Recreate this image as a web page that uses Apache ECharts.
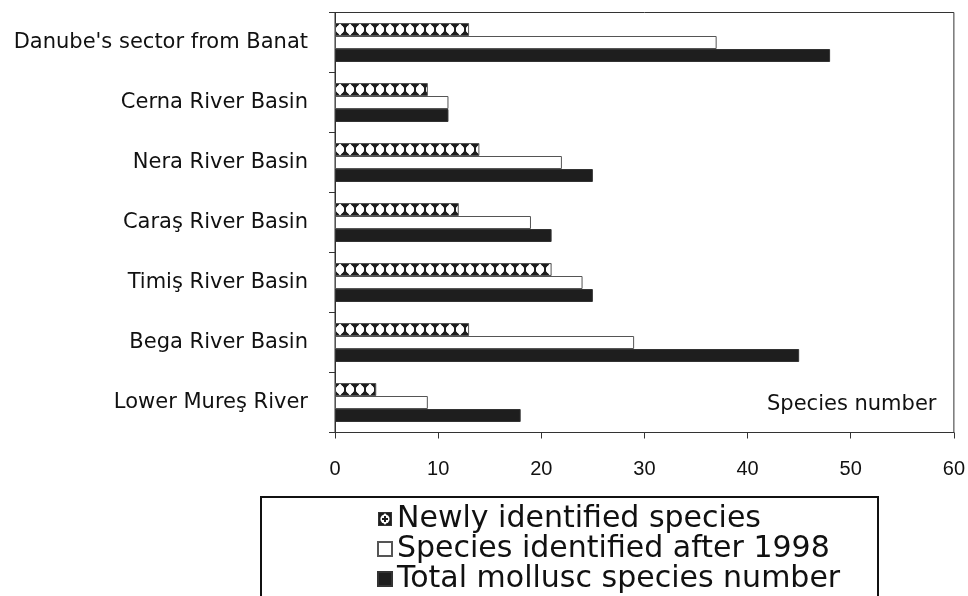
<!DOCTYPE html>
<html>
<head>
<meta charset="utf-8">
<script src="https://cdn.jsdelivr.net/npm/echarts@6/dist/echarts.min.js"></script>
<style>
html,body{margin:0;padding:0;background:#fff;}
#chart{width:968px;height:596px;}
</style>
</head>
<body>
<div id="chart"></div>
<script>
var categories = ["Danube's sector from Banat", "Cerna River Basin", "Nera River Basin", "Caraş River Basin", "Timiş River Basin", "Bega River Basin", "Lower Mureş River"];
var seriesNames = ["Newly identified species", "Species identified after 1998", "Total mollusc species number"];
var newlyIdentified = [13, 9, 14, 12, 21, 13, 4];
var identifiedAfter1998 = [37, 11, 22, 19, 24, 29, 9];
var totalSpecies = [48, 11, 25, 21, 25, 45, 18];
var xTicks = [0, 10, 20, 30, 40, 50, 60];

function drawMotif(ctx, cx, cy) {
  ctx.fillStyle = '#ffffff';
  ctx.beginPath();
  ctx.moveTo(cx, cy - 6);
  ctx.lineTo(cx + 4, cy - 1.5);
  ctx.lineTo(cx + 4, cy + 1.5);
  ctx.lineTo(cx, cy + 6);
  ctx.lineTo(cx - 4, cy + 1.5);
  ctx.lineTo(cx - 4, cy - 1.5);
  ctx.closePath();
  ctx.fill();
  ctx.beginPath();
  ctx.arc(cx, cy, 3.9, 0, Math.PI * 2);
  ctx.fill();
  ctx.fillRect(cx - 0.5, cy - 6.5, 1, 13);
}
function makePattern() {
  var c = document.createElement('canvas');
  c.width = 10; c.height = 60;
  var ctx = c.getContext('2d');
  ctx.fillStyle = '#1e1e1e';
  ctx.fillRect(0, 0, 10, 60);
  drawMotif(ctx, 0, 29.5);
  drawMotif(ctx, 10, 29.5);
  return c;
}
function makeLegendIcon() {
  var c = document.createElement('canvas');
  c.width = 14; c.height = 14;
  var ctx = c.getContext('2d');
  ctx.fillStyle = '#1e1e1e';
  ctx.fillRect(0, 0, 14, 14);
  ctx.fillStyle = '#fff';
  ctx.beginPath();
  ctx.arc(7, 7, 4.6, 0, Math.PI * 2);
  ctx.fill();
  ctx.beginPath();
  ctx.moveTo(7, 1); ctx.lineTo(11, 7); ctx.lineTo(7, 13); ctx.lineTo(3, 7); ctx.closePath();
  ctx.fill();
  ctx.fillStyle = '#1e1e1e';
  ctx.fillRect(6, 4, 2, 6);
  ctx.fillRect(4, 6, 6, 2);
  ctx.strokeStyle = '#333';
  ctx.lineWidth = 1;
  ctx.strokeRect(0.5, 0.5, 13, 13);
  return c.toDataURL();
}
var pattern = { image: makePattern(), repeat: 'repeat' };

var labelFont = '"DejaVu Sans", sans-serif';
var tickFont = '"Liberation Sans", Arial, sans-serif';
var chart = echarts.init(document.getElementById('chart'));
chart.setOption({
  animation: false,
  backgroundColor: '#fff',
  grid: { left: 335, right: 11, top: 12.5, height: 420, show: true, borderColor: '#333', borderWidth: 1 },
  xAxis: {
    type: 'value', min: xTicks[0], max: xTicks[xTicks.length - 1], interval: 10,
    splitLine: { show: false },
    axisLine: { show: true, lineStyle: { color: '#333', width: 1 } },
    axisTick: { show: true, length: 6, lineStyle: { color: '#333' } },
    axisLabel: { fontFamily: tickFont, fontSize: 20, color: '#111', margin: 27 }
  },
  yAxis: {
    type: 'category', data: categories, inverse: true,
    axisLine: { show: true, lineStyle: { color: '#333', width: 1 } },
    axisTick: { show: true, length: 6, lineStyle: { color: '#333' } },
    axisLabel: { fontFamily: labelFont, fontSize: 21, color: '#111', margin: 27 }
  },
  legend: {
    orient: 'vertical', left: 377, top: 504, padding: 0, itemGap: 0,
    itemWidth: 14, itemHeight: 14,
    textStyle: { fontFamily: labelFont, fontSize: 30, lineHeight: 29.5, color: '#111' },
    data: [
      { name: seriesNames[0], icon: 'image://' + makeLegendIcon() },
      { name: seriesNames[1], icon: 'rect' },
      { name: seriesNames[2], icon: 'rect' }
    ]
  },
  graphic: [
    { type: 'rect', shape: { x: 261, y: 497, width: 617, height: 130 }, style: { fill: 'none', stroke: '#111', lineWidth: 2 }, silent: true },
    { type: 'text', left: 767, top: 394, style: { text: 'Species number', fontFamily: labelFont, fontSize: 21, fill: '#111' } }
  ],
  series: [
    { name: seriesNames[0], type: 'bar', data: newlyIdentified, barWidth: 13, barGap: '0%',
      itemStyle: { color: pattern, borderColor: '#555', borderWidth: 1 } },
    { name: seriesNames[1], type: 'bar', data: identifiedAfter1998, barWidth: 13, barGap: '0%',
      itemStyle: { color: '#fff', borderColor: '#555', borderWidth: 1 } },
    { name: seriesNames[2], type: 'bar', data: totalSpecies, barWidth: 13, barGap: '0%',
      itemStyle: { color: '#1e1e1e', borderColor: '#333', borderWidth: 1 } }
  ]
});
</script>
</body>
</html>
